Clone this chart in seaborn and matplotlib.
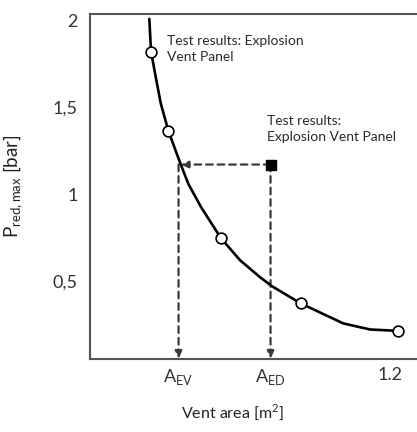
import numpy as np
import pandas as pd
import seaborn as sns
import matplotlib.pyplot as plt

# --------------------------------------------------#
# Data
# --------------------------------------------------#

# fitted curve P_red,max vs vent area
curve_area = [0.237, 0.244, 0.263, 0.283, 0.313, 0.342, 0.363, 0.393, 0.444,
              0.523, 0.600, 0.680, 0.728, 0.843, 1.013, 1.120, 1.231]
curve_p = [2.011, 1.822, 1.674, 1.523, 1.368, 1.253, 1.172, 1.061, 0.927,
           0.749, 0.621, 0.523, 0.471, 0.372, 0.257, 0.222, 0.214]

# test points (open circles)
test_area = [0.244, 0.313, 0.523, 0.843, 1.231]
test_p = [1.822, 1.368, 0.749, 0.372, 0.214]

# explosion vent panel result (filled square)
a_ev = 0.354
a_ed = 0.722
p_panel = 1.172

xtick_pos = [a_ev, a_ed, 1.2]
xtick_labels = ["A$_{\\mathregular{EV}}$", "A$_{\\mathregular{ED}}$", "1.2"]
ytick_pos = [0.5, 1.0, 1.5, 2.0]
ytick_labels = ["0,5", "1", "1,5", "2"]

curve = pd.DataFrame({"area": curve_area, "p": curve_p})
tests = pd.DataFrame({"area": test_area, "p": test_p})

# --------------------------------------------------#
# Plot
# --------------------------------------------------#

sns.set_style("white")
plt.rcParams["font.family"] = ["Lato", "DejaVu Sans"]

fig = plt.figure(figsize=(4.17, 4.32), dpi=100)
ax = fig.add_axes([0.216, 0.169, 0.784, 0.799])

col_dash = "#3a3a3a"
ybot = 0.052
arrow = dict(arrowstyle="-|>,head_length=0.45,head_width=0.2", color=col_dash,
             lw=1.6, linestyle=(0, (3, 2.2)), shrinkA=0, shrinkB=0)

# dashed guide lines with arrows
ax.annotate("", xy=(a_ev + 0.008, p_panel), xytext=(a_ed, p_panel), arrowprops=arrow)
ax.annotate("", xy=(a_ev, ybot), xytext=(a_ev, p_panel), arrowprops=arrow)
ax.annotate("", xy=(a_ed, ybot), xytext=(a_ed, p_panel), arrowprops=arrow)

line = sns.lineplot(data=curve, x="area", y="p", ax=ax, color="black", linewidth=1.9,
                    estimator=None, sort=False, zorder=3)
line.lines[-1].set_solid_joinstyle("round")
sns.scatterplot(data=tests, x="area", y="p", ax=ax, s=60, facecolor="white",
                edgecolor="black", linewidth=1.2, zorder=4)
ax.scatter([a_ed], [p_panel], marker="s", s=45, color="black", zorder=5)

ax.text(0.308, 1.92, "Test results: Explosion\nVent Panel", fontsize=10,
        va="top", ha="left", color="#2a2a2a", linespacing=1.4)
ax.text(0.708, 1.455, "Test results:\nExplosion Vent Panel", fontsize=10,
        va="top", ha="left", color="#2a2a2a", linespacing=1.4)

ax.set_xlim(0, 1.308)
ax.set_ylim(ybot, 2.04)
ax.set_xticks(xtick_pos)
ax.set_xticklabels(xtick_labels, fontsize=13)
ax.set_yticks(ytick_pos)
ax.set_yticklabels(ytick_labels, fontsize=13)
ax.tick_params(axis="x", length=0, pad=6, colors="#333333")
ax.tick_params(axis="y", direction="in", length=6, width=1.2, pad=9, colors="#333333")

ax.set_xlabel("Vent area [m$^{\\mathregular{2}}$]", fontsize=11.5, color="#222222")
ax.xaxis.set_label_coords(0.437, -0.125)
ax.set_ylabel("P$_{\\mathregular{red,max}}$ [bar]", fontsize=13.5, color="#222222")
ax.yaxis.set_label_coords(-0.2, 0.5)

for side in ["left", "bottom", "top"]:
    ax.spines[side].set_color("#555555")
    ax.spines[side].set_linewidth(1.5)
ax.spines["right"].set_visible(False)

fig.savefig("out.png", dpi=100)
